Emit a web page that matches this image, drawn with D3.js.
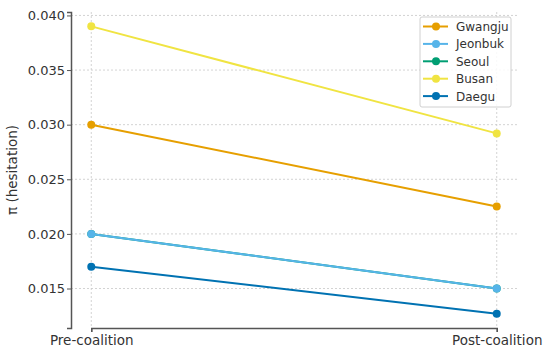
<!DOCTYPE html>
<html lang="en">
<head>
<meta charset="utf-8">
<title>Hesitation before and after coalition</title>
<style>
  body { margin: 0; background: #fff; }
  svg { display: block; font-family: "DejaVu Sans", sans-serif; }
</style>
<script src="https://cdn.jsdelivr.net/npm/d3@7"></script>
</head>
<body>
<script>
// data
var phases = ["Pre-coalition", "Post-coalition"];
var regions = ["Gwangju", "Jeonbuk", "Seoul", "Busan", "Daegu"];
var colors = ["#E69F00", "#56B4E9", "#009E73", "#F0E442", "#0072B2"];
var gwangju = [0.0300, 0.0225];
var jeonbuk = [0.0200, 0.0150];
var seoul = [0.0200, 0.0150];   // hidden under Jeonbuk in the picture
var busan = [0.0390, 0.0292];
var daegu = [0.0170, 0.0127];
var yTicks = [0.015, 0.020, 0.025, 0.030, 0.035, 0.040];

var series = [gwangju, jeonbuk, seoul, busan, daegu];
// Seoul goes first so Jeonbuk sits on top of it, as in the picture
var drawOrder = [2, 0, 1, 3, 4];

(function () {
  var w = 550, h = 350;
  var pL = 71, pR = 517, pT = 12, pB = 328;

  var svg = d3.select("body").append("svg")
    .attr("width", w)
    .attr("height", h);

  // matplotlib-like 5% margins
  var allVals = [].concat.apply([], series);
  var lo = d3.min(allVals), hi = d3.max(allVals);
  var pad = (hi - lo) * 0.05;
  var span = (pR - pL) / 1.1;

  var x = d3.scalePoint().domain(phases).range([pL + span * 0.05, pR - span * 0.05]);
  var y = d3.scaleLinear().domain([lo - pad, hi + pad]).range([pB, pT]);

  // grid
  var grid = svg.append("g");
  grid.selectAll("line.gy").data(yTicks).enter().append("line")
    .attr("x1", pL).attr("x2", pR)
    .attr("y1", function (d) { return y(d); })
    .attr("y2", function (d) { return y(d); })
    .attr("stroke", "#c8c8c8").attr("stroke-width", 0.8)
    .attr("stroke-dasharray", "2,2");
  grid.selectAll("line.gx").data(phases).enter().append("line")
    .attr("y1", pT).attr("y2", pB)
    .attr("x1", function (d) { return x(d); })
    .attr("x2", function (d) { return x(d); })
    .attr("stroke", "#c8c8c8").attr("stroke-width", 0.8)
    .attr("stroke-dasharray", "2,2");

  // axes
  var yAxis = svg.append("g")
    .attr("transform", "translate(" + pL + ",0)")
    .call(d3.axisLeft(y).tickValues(yTicks).tickFormat(d3.format(".3f")).tickSizeOuter(0).tickSize(4).tickPadding(2));
  var xAxis = svg.append("g")
    .attr("transform", "translate(0," + pB + ")")
    .call(d3.axisBottom(x).tickSizeOuter(0).tickSize(4).tickPadding(3));

  [xAxis, yAxis].forEach(function (a) {
    a.select(".domain").attr("stroke", "#555").attr("stroke-width", 1.5);
    a.selectAll(".tick line").attr("stroke", "#555");
    a.selectAll(".tick text")
      .attr("fill", "#333")
      .style("font-size", "13px")
      .style("font-family", "DejaVu Sans, sans-serif");
  });
  xAxis.selectAll(".tick text").style("font-size", "13.5px");

  svg.append("text")
    .attr("transform", "translate(17," + ((pT + pB) / 2) + ") rotate(-90)")
    .attr("text-anchor", "middle")
    .attr("fill", "#333")
    .style("font-size", "13.5px")
    .text("π (hesitation)");

  // lines and markers
  var line = d3.line()
    .x(function (d, i) { return x(phases[i]); })
    .y(function (d) { return y(d); });

  drawOrder.forEach(function (k) {
    var s = series[k];
    var g = svg.append("g");
    g.append("path")
      .attr("d", line(s))
      .attr("fill", "none")
      .attr("stroke", colors[k])
      .attr("stroke-width", 2);
    g.selectAll("circle").data(s).enter().append("circle")
      .attr("cx", function (d, i) { return x(phases[i]); })
      .attr("cy", function (d) { return y(d); })
      .attr("r", 4)
      .attr("fill", colors[k]);
  });

  // legend
  var lg = svg.append("g").attr("transform", "translate(420,17)");
  lg.append("rect")
    .attr("width", 91).attr("height", 90)
    .attr("rx", 2)
    .attr("fill", "white").attr("fill-opacity", 0.85)
    .attr("stroke", "#d0d0d0");
  regions.forEach(function (r, i) {
    var yy = 9.5 + i * 17.4;
    lg.append("line")
      .attr("x1", 3).attr("x2", 28)
      .attr("y1", yy).attr("y2", yy)
      .attr("stroke", colors[i]).attr("stroke-width", 2);
    lg.append("circle").attr("cx", 16).attr("cy", yy).attr("r", 4).attr("fill", colors[i]);
    lg.append("text")
      .attr("x", 36).attr("y", yy + 4.5)
      .attr("fill", "#333")
      .style("font-size", "12px")
      .text(r);
  });
})();
</script>
</body>
</html>
